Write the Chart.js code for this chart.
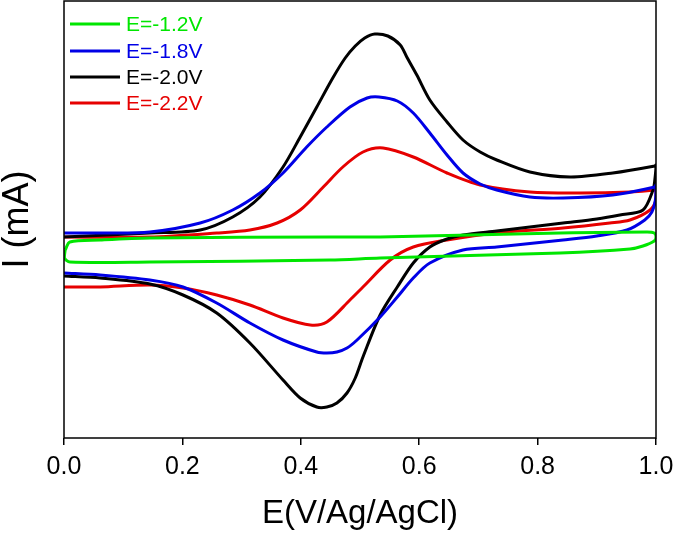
<!DOCTYPE html>
<html>
<head>
<meta charset="utf-8">
<script src="https://cdn.jsdelivr.net/npm/chart.js@4"></script>
<style>
  html, body { margin: 0; padding: 0; background: #fff; }
  #wrap { width: 675px; height: 534px; }
</style>
</head>
<body>
<div id="wrap"><canvas id="cvChart" width="675" height="534"></canvas></div>
<script>

// ------------------------------
// Data (E in V, I in arbitrary mA units)
// ------------------------------

const seriesLabels = ["E=-1.2V", "E=-1.8V", "E=-2.0V", "E=-2.2V"];
const seriesColors = ["#00e600", "#0000e6", "#000000", "#e60000"];

const xTicks = [0.0, 0.2, 0.4, 0.6, 0.8, 1.0];

const greenE = [0.002, 0.010, 0.061, 0.145, 0.449, 0.534, 0.838, 0.985, 0.997, 1.000, 0.997, 0.978, 0.956, 0.838, 0.534, 0.449, 0.145, 0.010, 0.001, 0.002];
const greenI = [0.00, 0.08, 0.10, 0.12, 0.13, 0.13, 0.17, 0.18, 0.17, 0.13, 0.09, 0.04, 0.01, -0.03, -0.08, -0.10, -0.12, -0.12, -0.08, 0.00];

const blueE = [0.000, 0.061, 0.145, 0.230, 0.285, 0.331, 0.370, 0.410, 0.444, 0.483, 0.512, 0.532, 0.563, 0.590, 0.618, 0.647, 0.674, 0.703, 0.731, 0.787, 0.843, 0.927, 0.998, 1.000,
               0.999, 0.993, 0.981, 0.951, 0.900, 0.843, 0.731, 0.674, 0.618, 0.590, 0.563, 0.534, 0.495, 0.478, 0.461, 0.444, 0.427, 0.370, 0.314, 0.258, 0.201, 0.145, 0.061, 0.000];
const blueI = [0.17, 0.17, 0.18, 0.27, 0.40, 0.57, 0.77, 1.03, 1.23, 1.43, 1.52, 1.53, 1.49, 1.37, 1.17, 0.95, 0.77, 0.66, 0.60, 0.53, 0.52, 0.55, 0.63, 0.65,
               0.50, 0.38, 0.30, 0.20, 0.14, 0.10, 0.03, 0.00, -0.13, -0.28, -0.47, -0.67, -0.90, -0.98, -1.02, -1.03, -1.02, -0.90, -0.73, -0.53, -0.37, -0.30, -0.25, -0.23];

const blackE = [0.000, 0.145, 0.230, 0.285, 0.331, 0.370, 0.399, 0.427, 0.454, 0.475, 0.492, 0.508, 0.525, 0.547, 0.568, 0.579, 0.596, 0.618, 0.647, 0.674, 0.703, 0.731, 0.787, 0.855, 0.927, 0.998, 1.000,
                0.998, 0.995, 0.978, 0.939, 0.900, 0.843, 0.787, 0.731, 0.674, 0.647, 0.618, 0.590, 0.563, 0.534, 0.505, 0.492, 0.478, 0.461, 0.444, 0.427, 0.399, 0.370, 0.314, 0.258, 0.201, 0.145, 0.061, 0.000];
const blackI = [0.13, 0.17, 0.20, 0.33, 0.53, 0.83, 1.13, 1.43, 1.72, 1.92, 2.04, 2.12, 2.16, 2.14, 2.05, 1.93, 1.75, 1.50, 1.28, 1.10, 0.98, 0.90, 0.78, 0.73, 0.77, 0.84, 0.85,
                0.70, 0.60, 0.40, 0.35, 0.31, 0.27, 0.23, 0.19, 0.15, 0.11, 0.03, -0.13, -0.37, -0.65, -1.07, -1.28, -1.43, -1.53, -1.57, -1.57, -1.48, -1.30, -0.93, -0.63, -0.45, -0.34, -0.28, -0.26];

const redE = [0.000, 0.145, 0.258, 0.314, 0.360, 0.399, 0.438, 0.471, 0.505, 0.539, 0.590, 0.647, 0.703, 0.787, 0.872, 0.956, 0.998, 1.000,
              1.000, 0.990, 0.956, 0.922, 0.843, 0.731, 0.647, 0.590, 0.551, 0.505, 0.483, 0.444, 0.416, 0.370, 0.314, 0.258, 0.201, 0.145, 0.061, 0.000];
const redI = [0.13, 0.13, 0.17, 0.20, 0.27, 0.40, 0.63, 0.83, 0.98, 1.02, 0.93, 0.77, 0.65, 0.58, 0.57, 0.58, 0.60, 0.61,
              0.50, 0.40, 0.30, 0.27, 0.22, 0.17, 0.10, 0.03, -0.10, -0.37, -0.50, -0.72, -0.75, -0.68, -0.55, -0.45, -0.38, -0.35, -0.37, -0.37];

const yMin = -1.88;
const yMax = 2.49;

// ------------------------------
// Helpers
// ------------------------------

function toPoints(xs, ys){
    return xs.map(function(x, i){
        return { x: x, y: ys[i] };
    });
}

const allE = [greenE, blueE, blackE, redE];
const allI = [greenI, blueI, blackI, redI];

const datasets = seriesLabels.map(function(label, i){
    return {
        label: label,
        data: toPoints(allE[i], allI[i]),
        showLine: true,
        borderColor: seriesColors[i],
        backgroundColor: seriesColors[i],
        borderWidth: 3,
        pointRadius: 0,
        tension: 0.3,
        fill: false
    };
});

// ------------------------------
// Plugins: frame + legend
// ------------------------------

const framePlugin = {
    id: "frame",
    afterDatasetsDraw: function(chart){
        const a = chart.chartArea;
        const ctx = chart.ctx;
        ctx.save();
        ctx.strokeStyle = "#000";
        ctx.lineWidth = 1.5;
        ctx.strokeRect(a.left, a.top, a.right - a.left, a.bottom - a.top);
        ctx.restore();
    }
};

const legendPlugin = {
    id: "insideLegend",
    afterDraw: function(chart){
        const ctx = chart.ctx;
        const rows = [24, 51, 77, 103];
        ctx.save();
        ctx.font = "21px 'Liberation Sans', Arial, sans-serif";
        ctx.textBaseline = "middle";
        chart.data.datasets.forEach(function(ds, i){
            ctx.strokeStyle = ds.borderColor;
            ctx.lineWidth = 3;
            ctx.beginPath();
            ctx.moveTo(70, rows[i]);
            ctx.lineTo(120, rows[i]);
            ctx.stroke();
            ctx.fillStyle = ds.borderColor;
            ctx.fillText(ds.label, 126, rows[i] + 1);
        });
        ctx.restore();
    }
};

// ------------------------------
// Chart
// ------------------------------

new Chart(document.getElementById("cvChart"), {

    type: "scatter",

    data: { datasets: datasets },

    options: {
        responsive: false,
        animation: false,
        layout: { padding: { top: 1, right: 19, left: 0, bottom: 0 } },
        plugins: {
            legend: { display: false },
            tooltip: { enabled: false }
        },
        scales: {
            x: {
                type: "linear",
                min: 0,
                max: 1,
                afterBuildTicks: function(scale){
                    scale.ticks = xTicks.map(function(v){ return { value: v }; });
                },
                afterFit: function(scale){
                    scale.height = 96;
                    scale.paddingRight = 0;
                    scale.paddingLeft = 0;
                },
                border: { display: false },
                grid: {
                    drawOnChartArea: false,
                    drawTicks: true,
                    tickLength: 7,
                    color: "#000",
                    lineWidth: 1.5
                },
                ticks: {
                    color: "#000",
                    padding: 7,
                    maxRotation: 0,
                    font: { family: "'Liberation Sans', Arial, sans-serif", size: 25 },
                    callback: function(v){ return Number(v).toFixed(1); }
                },
                title: {
                    display: true,
                    text: "E(V/Ag/AgCl)",
                    color: "#000",
                    padding: { top: 0, bottom: 4 },
                    font: { family: "'Liberation Sans', Arial, sans-serif", size: 33, lineHeight: 1 }
                }
            },
            y: {
                type: "linear",
                min: yMin,
                max: yMax,
                afterFit: function(scale){ scale.width = 64; },
                border: { display: false },
                grid: { display: false, drawTicks: false },
                ticks: { display: false },
                title: {
                    display: true,
                    text: "I (mA)",
                    color: "#000",
                    padding: { top: 0, bottom: 0 },
                    font: { family: "'Liberation Sans', Arial, sans-serif", size: 36, lineHeight: 1 }
                }
            }
        }
    },

    plugins: [framePlugin, legendPlugin]

});

</script>
</body>
</html>
